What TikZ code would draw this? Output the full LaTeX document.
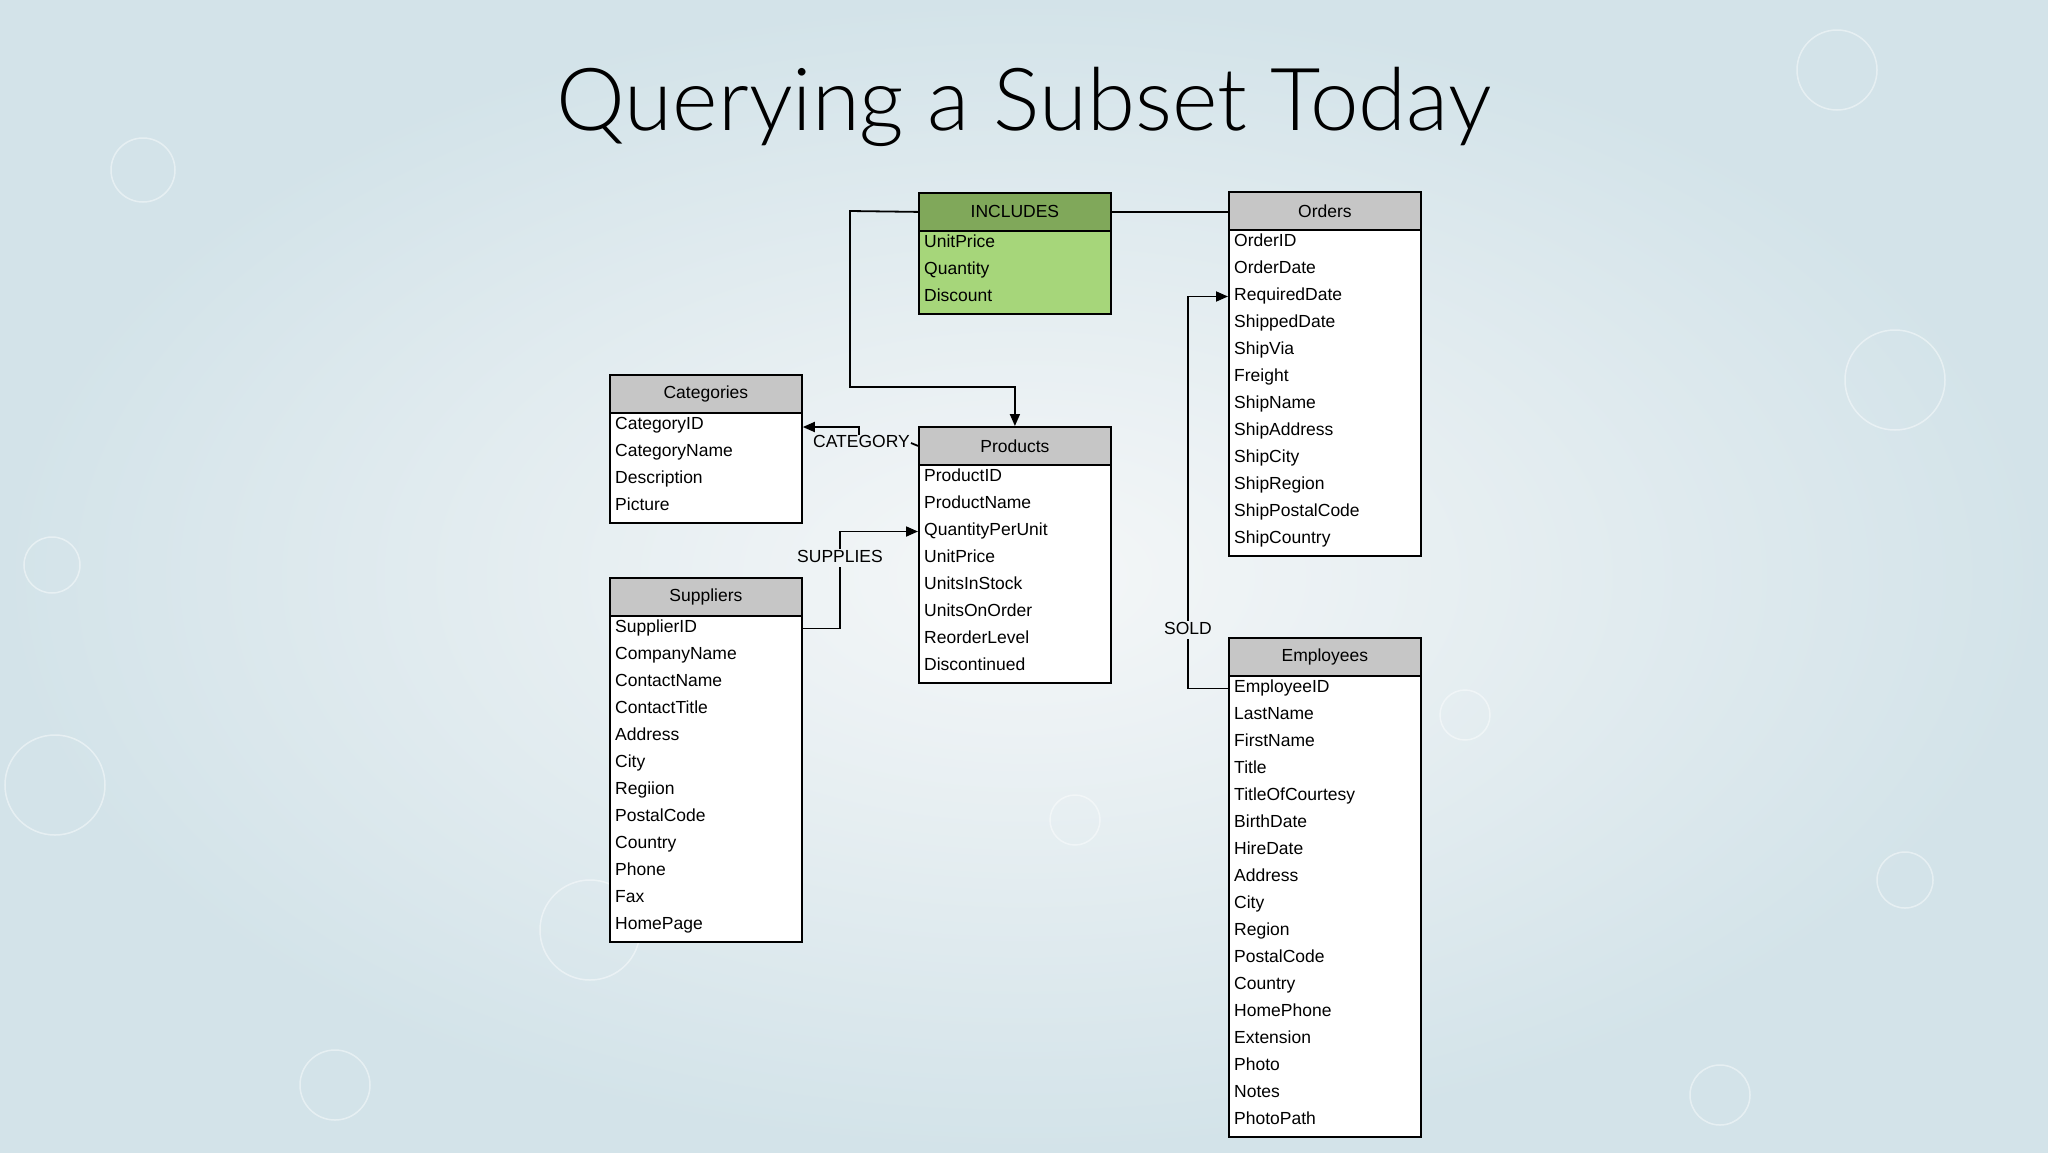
\documentclass[tikz,border=0pt]{standalone}
\usepackage{fontspec}
\setmainfont{Liberation Sans}
\newfontfamily\titlefont{Lato Light}
\usetikzlibrary{arrows.meta}
\definecolor{hdr}{HTML}{C6C6C6}
\definecolor{ghdr}{HTML}{80A85A}
\definecolor{gbody}{HTML}{A6D67A}
\definecolor{bgin}{HTML}{F5F7F8}
\definecolor{bgout}{HTML}{D3E3E9}
\tikzset{
  hbox/.style={draw=black,line width=1.8pt,anchor=north west,inner sep=0pt,font=\fontsize{17.5}{20}\selectfont},
  rowtext/.style={anchor=west,inner sep=0pt,text height=12pt,text depth=4pt,font=\fontsize{17.5}{20}\selectfont},
  conn/.style={line width=1.8pt},
  arr/.style={conn,-{Triangle[length=12pt,width=10pt]}},
  lbl/.style={font=\fontsize{17.5}{20}\selectfont,inner sep=1pt,text height=12pt,text depth=4pt}
}
% #1 name #2 x #3 ytop #4 nrows #5 hfill #6 bfill #7 title #8 rows
\newcommand\erbox[8]{%
  \node[hbox,fill=#5,minimum width=192pt,minimum height=38pt] (#1) at (#2,#3) {#7};
  \node[hbox,fill=#6,minimum width=192pt,minimum height={27*#4+2}] (#1-b) at (#2,#3+38) {};
  \foreach \t [count=\i] in {#8}{
    \node[rowtext] (#1-\i) at (#2+6,#3+38+13.5+27*\i-27) {\t};
  }%
}
\begin{document}
\begin{tikzpicture}[x=1pt,y=-1pt]
\shade[inner color=bgin,outer color=bgout] (0,0) rectangle (2048,1152);
\useasboundingbox (0,0) rectangle (2048,1152);
\foreach \cx/\cy/\r in {143/170/32,1837/70/40,1895/380/50,55/785/50,590/930/50,1720/1095/30,1905/880/28,52/565/28,335/1085/35,1465/715/25,1075/820/25}
  \draw[white,opacity=0.45,line width=1.5pt] (\cx,\cy) circle (\r);
\node[font=\titlefont\fontsize{87}{100}\selectfont] (title) at (1024,107) {Querying a Subset Today};

\erbox{inc}{918}{192}{3}{ghdr}{gbody}{INCLUDES}{UnitPrice,Quantity,Discount}
\erbox{ord}{1228}{191}{12}{hdr}{white}{Orders}{OrderID,OrderDate,RequiredDate,ShippedDate,ShipVia,Freight,ShipName,ShipAddress,ShipCity,ShipRegion,ShipPostalCode,ShipCountry}
\erbox{cat}{609}{374}{4}{hdr}{white}{Categories}{CategoryID,CategoryName,Description,Picture}
\erbox{prod}{918}{426}{8}{hdr}{white}{Products}{ProductID,ProductName,QuantityPerUnit,UnitPrice,UnitsInStock,UnitsOnOrder,ReorderLevel,Discontinued}
\erbox{sup}{609}{577}{12}{hdr}{white}{Suppliers}{SupplierID,CompanyName,ContactName,ContactTitle,Address,City,Regiion,PostalCode,Country,Phone,Fax,HomePage}
\erbox{emp}{1228}{637}{17}{hdr}{white}{Employees}{EmployeeID,LastName,FirstName,Title,TitleOfCourtesy,BirthDate,HireDate,Address,City,Region,PostalCode,Country,HomePhone,Extension,Photo,Notes,PhotoPath}

% INCLUDES -> Products
\draw[arr] (inc.west) -- (850,211) -- (850,387) -| (prod.north);
% INCLUDES -- Orders
\draw[conn] (inc.east) -- (ord.west |- inc.east);
% CATEGORY
\node[lbl,anchor=east] (lcat) at (911,443) {CATEGORY};
\draw[conn] (prod.west) -- (lcat.east);
\draw[arr] (859,435) -- (859,427) -- (cat-b.east |- 0,427);
% SUPPLIES
\node[lbl] (lsup) at (840,558) {SUPPLIES};
\draw[conn] (sup-b.east |- sup-1) -- (840,0 |- sup-1) -- (lsup.south);
\draw[arr] (lsup.north) -- (840,0 |- prod-3) -- (prod-b.west |- prod-3);
% SOLD
\node[lbl] (lsold) at (1188,630) {SOLD};
\draw[conn] (emp-b.west |- emp-1) -- (1188,0 |- emp-1) -- (lsold.south);
\draw[arr] (lsold.north) -- (1188,0 |- ord-3) -- (ord-b.west |- ord-3);
\end{tikzpicture}
\end{document}
